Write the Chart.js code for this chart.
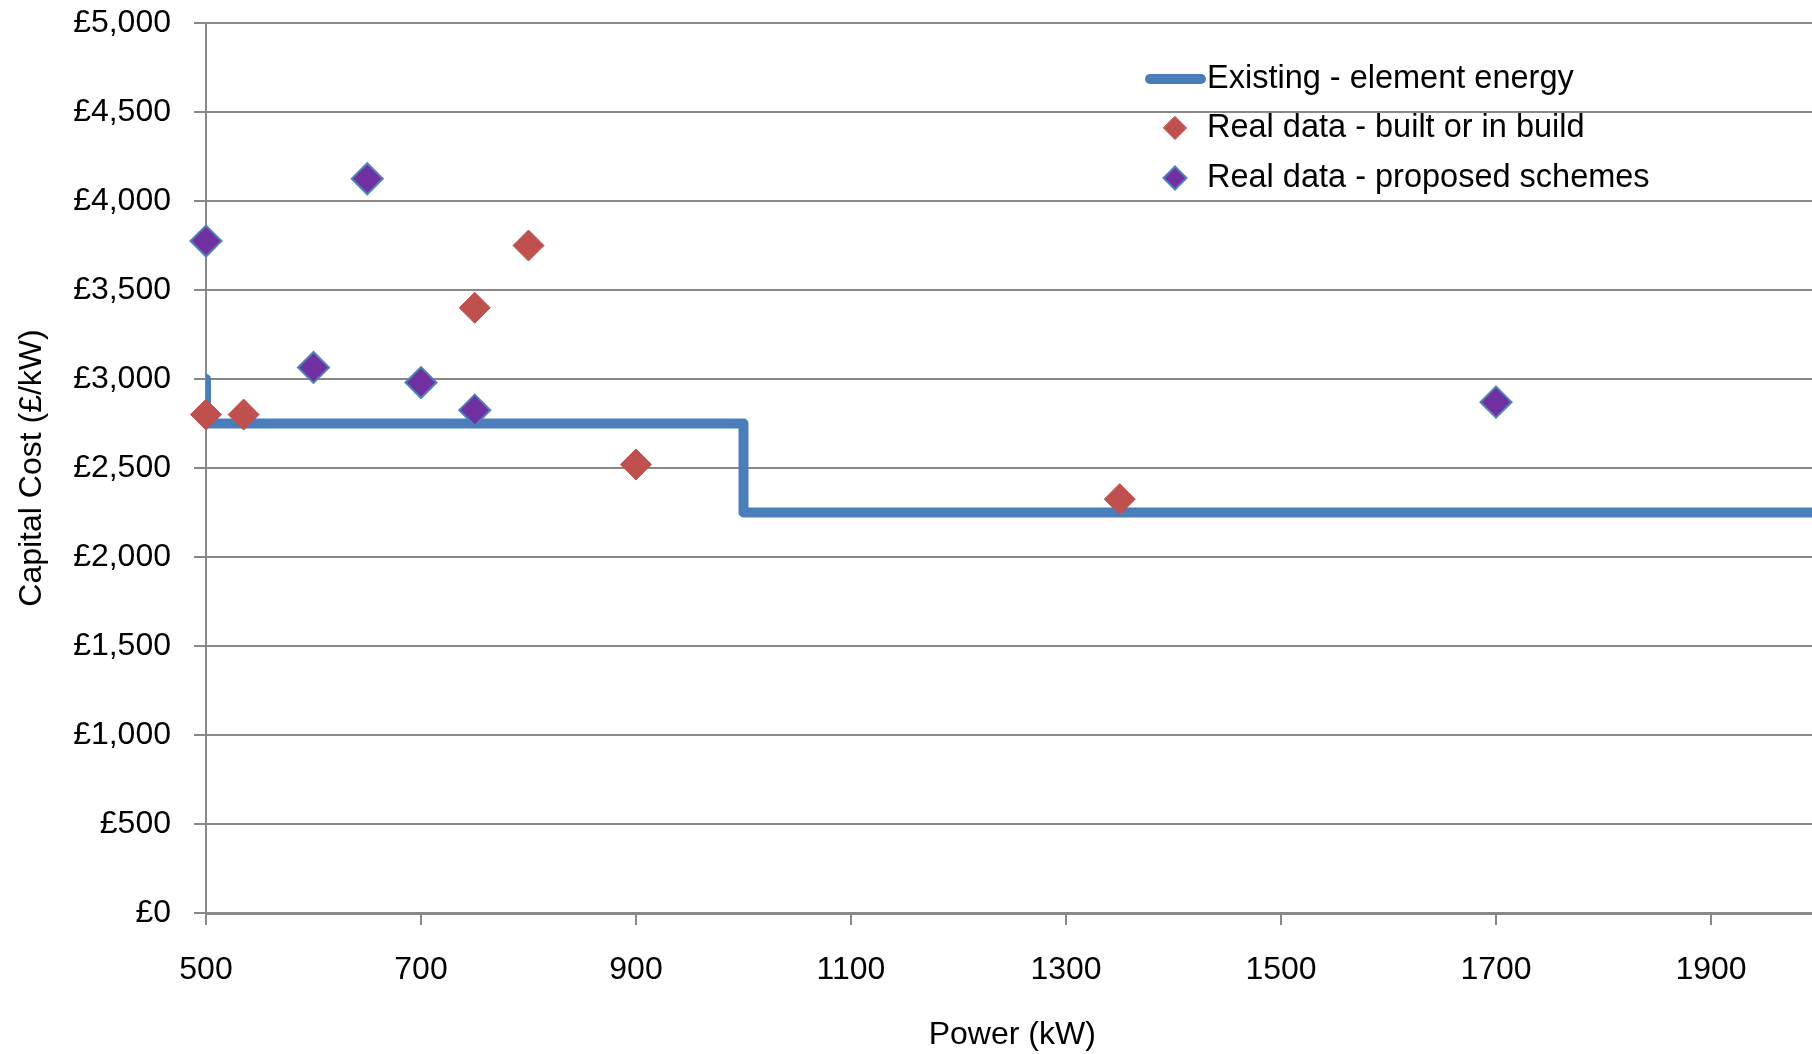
<!DOCTYPE html>
<html>
<head>
<meta charset="utf-8">
<title>Capital cost vs power</title>
<script src="https://cdn.jsdelivr.net/npm/chart.js@4.4.0/dist/chart.umd.min.js"></script>
<style>
  html, body { margin: 0; padding: 0; background: #fff; overflow: hidden; }
  #wrap { width: 1836px; height: 1054px; }
</style>
</head>
<body>
<div id="wrap"><canvas id="myChart" width="1836" height="1054"></canvas></div>
<script>
// Existing cost curve, listed as the corners of the step
var existingPower = [500, 500, 1000, 1000, 2000];
var existingCost = [3000, 2750, 2750, 2250, 2250];

// Real data - built or in build
var builtPower = [500, 535, 750, 800, 900, 1350];
var builtCost = [2800, 2800, 3400, 3750, 2520, 2325];

// Real data - proposed schemes
var proposedPower = [500, 600, 650, 700, 750, 1700];
var proposedCost = [3775, 3065, 4125, 2980, 2825, 2870];

var seriesNames = ['Existing - element energy', 'Real data - built or in build', 'Real data - proposed schemes'];

var xTicks = [500, 700, 900, 1100, 1300, 1500, 1700, 1900];
var yTicks = [0, 500, 1000, 1500, 2000, 2500, 3000, 3500, 4000, 4500, 5000];

var FONT = '"Liberation Sans", Arial, sans-serif';
var GRID = '#888888';

function points(xs, ys) {
    return xs.map(function (x, i) { return { x: x, y: ys[i] }; });
}

// legend sits inside the plot, top right
var cornerLegend = {
    id: 'cornerLegend',
    afterDraw: function (chart) {
        var ctx = chart.ctx;
        var ds = chart.data.datasets;
        var rows = [79, 128, 178];
        var textX = 1207, markX = 1175;
        ctx.save();
        ctx.font = '32.5px ' + FONT;
        ctx.fillStyle = '#000';
        ctx.textBaseline = 'middle';
        ctx.textAlign = 'left';
        ds.forEach(function (d, i) {
            var y = rows[i];
            if (d.type === 'line') {
                ctx.beginPath();
                ctx.strokeStyle = d.borderColor;
                ctx.lineWidth = d.borderWidth;
                ctx.lineCap = 'round';
                ctx.moveTo(1150, y);
                ctx.lineTo(1201, y);
                ctx.stroke();
            } else {
                var r = 11.5;
                ctx.beginPath();
                ctx.moveTo(markX, y - r);
                ctx.lineTo(markX + r, y);
                ctx.lineTo(markX, y + r);
                ctx.lineTo(markX - r, y);
                ctx.closePath();
                ctx.fillStyle = d.backgroundColor;
                ctx.fill();
                ctx.lineWidth = d.borderWidth;
                ctx.strokeStyle = d.borderColor;
                ctx.stroke();
                ctx.fillStyle = '#000';
            }
            ctx.fillText(d.label, textX, y);
        });
        ctx.restore();
    }
};

Chart.defaults.font.family = FONT;
Chart.defaults.font.size = 32;
Chart.defaults.color = '#000';

var ctx = document.getElementById('myChart');
var myChart = new Chart(ctx, {
    type: 'scatter',
    data: {
        datasets: [{
            type: 'line',
            label: seriesNames[0],
            data: points(existingPower, existingCost),
            borderColor: '#4A7EBB',
            backgroundColor: '#4A7EBB',
            borderWidth: 10,
            borderCapStyle: 'round',
            borderJoinStyle: 'round',
            pointRadius: 0,
            fill: false,
            tension: 0,
            order: 3
        }, {
            label: seriesNames[1],
            data: points(builtPower, builtCost),
            pointStyle: 'rectRot',
            pointRadius: 15.5,
            pointHoverRadius: 15.5,
            backgroundColor: '#C0504D',
            borderColor: '#C0504D',
            borderWidth: 1,
            clip: false,
            order: 2
        }, {
            label: seriesNames[2],
            data: points(proposedPower, proposedCost),
            pointStyle: 'rectRot',
            pointRadius: 15.5,
            pointHoverRadius: 15.5,
            backgroundColor: '#7030A0',
            borderColor: '#4F81BD',
            borderWidth: 2,
            clip: false,
            order: 1
        }]
    },
    options: {
        responsive: false,
        animation: false,
        layout: { padding: { top: 23, right: 2, bottom: 0, left: 0 } },
        plugins: {
            legend: { display: false },
            tooltip: { enabled: false }
        },
        scales: {
            x: {
                type: 'linear',
                min: 500,
                max: 2000,
                afterBuildTicks: function (scale) {
                    scale.ticks = xTicks.map(function (v) { return { value: v }; });
                },
                afterFit: function (scale) { scale.height = 141; },
                grid: {
                    drawOnChartArea: false,
                    drawTicks: true,
                    tickLength: 12,
                    color: GRID,
                    lineWidth: 2
                },
                border: { color: GRID, width: 3 },
                ticks: {
                    padding: 26,
                    maxRotation: 0,
                    autoSkip: false,
                    callback: function (v) { return String(v); }
                },
                title: {
                    display: true,
                    text: 'Power (kW)',
                    padding: { top: 0, bottom: 0 }
                }
            },
            y: {
                min: 0,
                max: 5000,
                afterBuildTicks: function (scale) {
                    scale.ticks = yTicks.map(function (v) { return { value: v }; });
                },
                afterFit: function (scale) {
                    scale.width = 206;
                    // top/bottom labels may overhang; the layout padding handles it
                    scale.paddingTop = 0;
                    scale.paddingBottom = 0;
                },
                grid: {
                    color: GRID,
                    lineWidth: 2,
                    tickLength: 12
                },
                border: { color: GRID, width: 2 },
                ticks: {
                    padding: 23,
                    callback: function (v) { return '£' + Number(v).toLocaleString('en-GB'); }
                },
                title: {
                    display: true,
                    text: 'Capital Cost (£/kW)',
                    padding: { top: 13, bottom: 0 }
                }
            }
        }
    },
    plugins: [cornerLegend]
});
</script>
</body>
</html>
